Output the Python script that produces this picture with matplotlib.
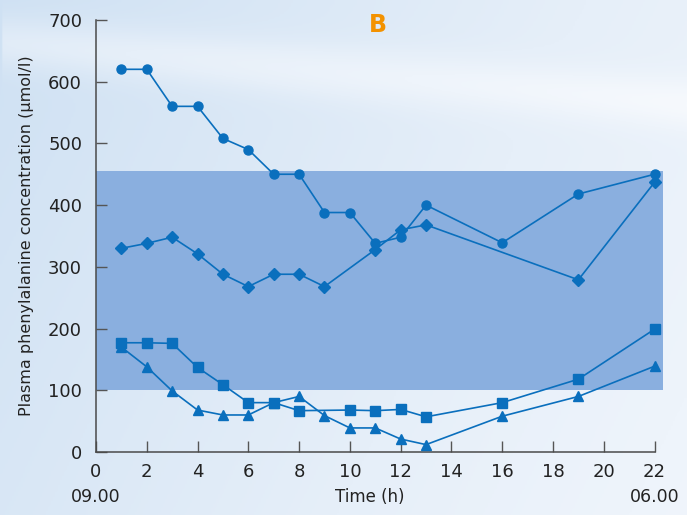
import numpy as np
import matplotlib
matplotlib.use("Agg")
import matplotlib.pyplot as plt
from matplotlib.colors import LinearSegmentedColormap

# Data
circle_x = [1, 2, 3, 4, 5, 6, 7, 8, 9, 10, 11, 12, 13, 16, 19, 22]
circle_y = [620, 620, 560, 560, 508, 490, 450, 450, 388, 388, 338, 348, 400, 339, 418, 450]
diamond_x = [1, 2, 3, 4, 5, 6, 7, 8, 9, 11, 12, 13, 19, 22]
diamond_y = [330, 338, 348, 321, 288, 268, 288, 288, 268, 328, 360, 368, 279, 437]
square_x = [1, 2, 3, 4, 5, 6, 7, 8, 10, 11, 12, 13, 16, 19, 22]
square_y = [177, 177, 176, 137, 109, 80, 80, 67, 68, 67, 69, 57, 80, 118, 199]
tri_x = [1, 2, 3, 4, 5, 6, 7, 8, 9, 10, 11, 12, 13, 16, 19, 22]
tri_y = [170, 138, 99, 68, 60, 60, 80, 90, 59, 39, 39, 21, 12, 58, 90, 139]
band_low, band_high = 100, 455
xticks = list(range(0, 23, 2))
yticks = list(range(0, 701, 100))

fig = plt.figure(figsize=(6.87, 5.15), dpi=100)

# background gradient
bg = fig.add_axes([0, 0, 1, 1], zorder=-10)
bg.axis("off")
nx, ny = 300, 220
X, Y = np.meshgrid(np.linspace(0, 1, nx), np.linspace(0, 1, ny))
val = 0.55 * X + 0.25 * (1 - Y) * 0.0 + 0.2 * Y
swoosh = np.exp(-((Y - (0.08 + 0.12 * X)) / 0.05) ** 2) * (X > 0.0)
val = np.clip(val + 0.35 * swoosh, 0, 1)
cmap = LinearSegmentedColormap.from_list("bgc", ["#cfe1f3", "#e6eff9", "#f6f9fd"])
bg.imshow(val, cmap=cmap, aspect="auto", extent=[0, 1, 0, 1], origin="upper")
bg.set_xlim(0, 1)
bg.set_ylim(0, 1)

ax = fig.add_axes([0.1397, 0.1223, 0.826, 0.839])
ax.patch.set_alpha(0)

xmax = 22.35
ax.axhspan(band_low, band_high, xmin=0, xmax=1, color="#8aafdf", zorder=0, lw=0)

col = "#0a6fbd"
kw = dict(color=col, lw=1.2, zorder=3)
ax.plot(circle_x, circle_y, marker="o", ms=6.5, **kw)
ax.plot(diamond_x, diamond_y, marker="D", ms=6, **kw)
ax.plot(square_x, square_y, marker="s", ms=6.5, **kw)
ax.plot(tri_x, tri_y, marker="^", ms=7, **kw)

ax.set_xlim(0, xmax)
ax.set_ylim(0, 700)
ax.set_xticks(xticks)
ax.set_yticks(yticks)
for s in ["top", "right"]:
    ax.spines[s].set_visible(False)
for s in ["left", "bottom"]:
    ax.spines[s].set_color("#4a4a4a")
    ax.spines[s].set_linewidth(1.1)
ax.spines["bottom"].set_bounds(0, 22)
ax.tick_params(direction="in", length=8, width=1, color="#555555",
               labelsize=13, labelcolor="#222222", pad=8)
ax.tick_params(axis="y", pad=10)

ax.set_ylabel("Plasma phenylalanine concentration (μmol/l)", fontsize=11.5,
              color="#222222", labelpad=10)
fig.text(370 / 687, 1 - 497 / 515, "Time (h)", fontsize=12, color="#222222",
         ha="center", va="center")
fig.text(96 / 687, 1 - 497 / 515, "09.00", fontsize=12.5, color="#222222",
         ha="center", va="center")
fig.text(655 / 687, 1 - 497 / 515, "06.00", fontsize=12.5, color="#222222",
         ha="center", va="center")
fig.text(378 / 687, 1 - 25 / 515, "B", fontsize=17, color="#f39200",
         fontweight="bold", ha="center", va="center")

fig.savefig("out.png", dpi=100)
